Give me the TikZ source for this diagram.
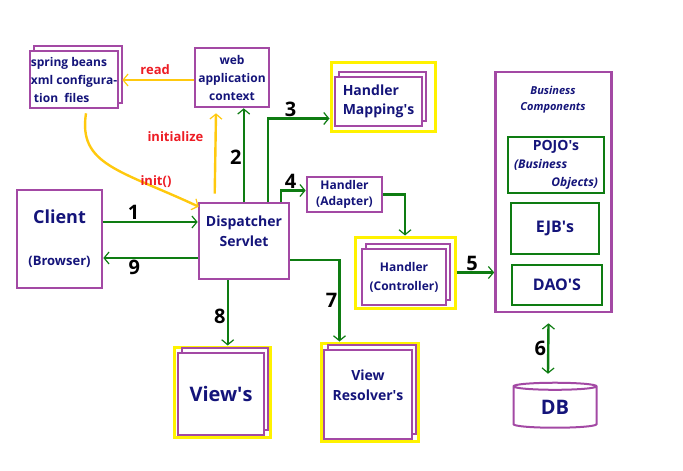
\documentclass[tikz,border=0pt]{standalone}
\usepackage{fontspec}
\setmainfont{Open Sans}
\usetikzlibrary{positioning, arrows.meta, shapes.geometric, shadows, calc}

\begin{document}
\begin{tikzpicture}[
    x=1pt, y=-1pt,
    >={Straight Barb[length=5pt, width=12pt, line width=1.2pt]},
    box/.style={rectangle, draw=boxborder, fill=white, line width=2.6pt,
        text=navytext, font=\fontsize{12}{18}\selectfont\bfseries, align=center, inner sep=0pt},
    stack/.style={box, copy shadow={shadow xshift=4pt, shadow yshift=5pt}},
    hilite/.style={rectangle, draw=hilitecolor, line width=3pt, inner sep=0pt},
    compbox/.style={rectangle, draw=flowcolor, line width=2.4pt,
        text=navytext, font=\fontsize{16}{18}\selectfont\bfseries, align=center, inner sep=0pt},
    flow/.style={->, draw=flowcolor, line width=2.4pt},
    setup/.style={->, draw=setupcolor, line width=2.4pt},
    num/.style={font=\fontsize{20}{22}\selectfont\bfseries, text=black, inner sep=1pt},
    note/.style={font=\fontsize{13}{15}\selectfont\bfseries, text=notecolor, inner sep=1pt},
]

% ── Colors ──
\definecolor{boxborder}{HTML}{A349A4}
\definecolor{hilitecolor}{HTML}{FFF200}
\definecolor{flowcolor}{HTML}{0E7C12}
\definecolor{setupcolor}{HTML}{FFC90E}
\definecolor{notecolor}{HTML}{ED1C24}
\definecolor{navytext}{HTML}{14147A}

\useasboundingbox (0,0) rectangle (683,471);

% ══════════════════════════════════════════════
% Start-up: configuration and context
% ══════════════════════════════════════════════
\node[stack, minimum width=88pt, minimum height=57pt, align=left] (beans) at (74,79.5)
    {spring beans\\xml configura-\\\ tion\ \ files};
\node[box, minimum width=74pt, minimum height=59pt] (context) at (232,77.5)
    {web\\application\\context};

% ══════════════════════════════════════════════
% Client and front controller
% ══════════════════════════════════════════════
\node[box, minimum width=85pt, minimum height=98pt, font=\fontsize{13}{15}\selectfont\bfseries] (client) at (59.5,239)
    {{\fontsize{18}{20}\selectfont Client}\\[27pt](Browser)};
\node[box, minimum width=90pt, minimum height=76pt, font=\fontsize{14}{20}\selectfont\bfseries] (servlet) at (244,241)
    {Dispatcher\\Servlet\\[-6pt]\strut};

% ══════════════════════════════════════════════
% Handlers
% ══════════════════════════════════════════════
\node[hilite, minimum width=104pt, minimum height=69pt] (mapframe) at (383,96.5) {};
\node[stack, minimum width=87pt, minimum height=49pt, align=left,
    font=\fontsize{14}{19}\selectfont\bfseries] (mapping) at (378.5,101.5) {Handler\\Mapping\textquotesingle s};

\node[box, minimum width=75pt, minimum height=35pt, font=\fontsize{12}{16}\selectfont\bfseries] (adapter) at (344.5,194.5)
    {Handler\\(Adapter)};

\node[hilite, minimum width=100pt, minimum height=71pt] (ctrlframe) at (405,272.5) {};
\node[stack, minimum width=84pt, minimum height=56pt, font=\fontsize{12}{19}\selectfont\bfseries] (controller) at (404,277)
    {Handler\\(Controller)};

% ══════════════════════════════════════════════
% Views
% ══════════════════════════════════════════════
\node[hilite, minimum width=96pt, minimum height=90pt] (viewframe) at (222,392) {};
\node[stack, minimum width=86pt, minimum height=82pt, font=\fontsize{20}{24}\selectfont\bfseries] (views) at (221,394)
    {View\textquotesingle s};

\node[hilite, minimum width=97pt, minimum height=98pt] (resframe) at (369.5,392) {};
\node[stack, minimum width=88pt, minimum height=89pt, font=\fontsize{14}{20}\selectfont\bfseries] (resolver) at (368,394.5)
    {View\\Resolver\textquotesingle s\\[-8pt]\strut};

% ══════════════════════════════════════════════
% Business components and database
% ══════════════════════════════════════════════
\node[box, minimum width=116pt, minimum height=240pt] (business) at (553.5,192) {};
\node[font=\fontsize{11}{16}\selectfont\bfseries\itshape, text=navytext, align=center] (bizlabel) at (553,100)
    {Business\\Components};

\node[compbox, minimum width=96pt, minimum height=56pt, font=\fontsize{14}{18}\selectfont\bfseries] (pojo) at (556,165)
    {POJO\textquotesingle s\\\makebox[84pt][l]{\fontsize{12}{18}\selectfont\itshape(Business}\\
     \makebox[84pt][r]{\fontsize{12}{18}\selectfont\itshape Objects)}};
\node[compbox, minimum width=88pt, minimum height=51pt] (ejb) at (555,228.5) {EJB\textquotesingle s};
\node[compbox, minimum width=90pt, minimum height=40pt] (dao) at (557,285) {DAO\textquotesingle S};

\node[cylinder, shape border rotate=90, aspect=0.25, draw=boxborder, line width=2pt,
    minimum width=83pt, minimum height=45pt, inner sep=0pt,
    text=navytext, font=\fontsize{20}{24}\selectfont\bfseries] (db) at (555,407.5) {DB};

% ══════════════════════════════════════════════
% Start-up arrows
% ══════════════════════════════════════════════
\draw[setup] (context.west |- 0,80) -- ([xshift=3pt]beans.east |- 0,80)
    node[note, pos=0.54, above=3pt] {read};
\draw[setup] ([xshift=17pt, yshift=8pt]servlet.north west) -- ([xshift=-16pt, yshift=-5pt]context.south)
    node[note, pos=0.71, left=10pt] {initialize};
\draw[setup] ([xshift=12pt, yshift=-4pt]beans.south) .. controls (78,165) and (120,170) .. ([xshift=1pt, yshift=-5pt]servlet.north west)
    node[note, pos=0.8, above=-2pt] {init()};

% ══════════════════════════════════════════════
% Request flow
% ══════════════════════════════════════════════
\draw[flow] ([yshift=17pt]client.east) -- ([yshift=17pt]client.east -| servlet.west)
    node[num, pos=0.32, above] {1};
\draw[flow] ([xshift=46pt]servlet.north west) -- ([xshift=46pt]servlet.north west |- context.south)
    node[num, pos=0.48, left] {2};
\draw[flow] ([xshift=70pt]servlet.north west) |- ([yshift=-22pt]mapframe.west)
    node[num, pos=0.685, above] {3};
\draw[flow] ([xshift=83pt]servlet.north west) |- ([yshift=4pt]adapter.west)
    node[num, pos=0.7, above] {4};
\draw[flow] (adapter.east) -| (ctrlframe.north);
\draw[flow] (ctrlframe.east) -- (ctrlframe.east -| business.west)
    node[num, pos=0.41, above] {5};
\draw[<->, draw=flowcolor, line width=2.4pt] ([xshift=-5pt, yshift=-10pt]business.south) -- ([xshift=-7pt, yshift=8pt]db.north)
    node[num, midway, left] {6};
\draw[flow] ([yshift=-19pt]servlet.east) -| ([xshift=20pt]resframe.north west)
    node[num, pos=0.75, left] {7};
\draw[flow] ([xshift=30pt]servlet.south west) -- ([xshift=30pt]servlet.south west |- viewframe.north)
    node[num, pos=0.55, left] {8};
\draw[flow] ([yshift=-17pt]servlet.west) -- ([yshift=-17pt]servlet.west -| client.east)
    node[num, pos=0.67, below] {9};

\end{tikzpicture}
\end{document}
